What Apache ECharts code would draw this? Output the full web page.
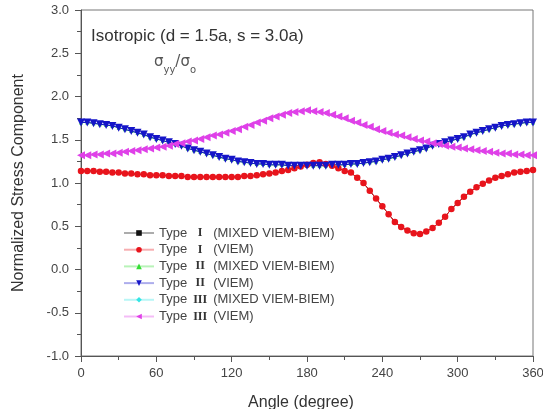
<!DOCTYPE html>
<html>
<head>
<meta charset="utf-8">
<script src="https://cdn.jsdelivr.net/npm/echarts@6/dist/echarts.min.js"></script>
<style>
  html, body { margin: 0; padding: 0; background: #fff; }
  #chart { width: 543px; height: 409px; }
</style>
</head>
<body>
<div id="chart"></div>
<script>
const angles = [
  0, 5, 10, 15, 20, 25, 30, 35, 40, 45,
  50, 55, 60, 65, 70, 75, 80, 85, 90, 95,
  100, 105, 110, 115, 120, 125, 130, 135, 140, 145,
  150, 155, 160, 165, 170, 175, 180, 185, 190, 195,
  200, 205, 210, 215, 220, 225, 230, 235, 240, 245,
  250, 255, 260, 265, 270, 275, 280, 285, 290, 295,
  300, 305, 310, 315, 320, 325, 330, 335, 340, 345,
  350, 355, 360
]

const typeIViem = [
  1.14, 1.14, 1.14, 1.13, 1.13, 1.12, 1.12, 1.11, 1.11, 1.10,
  1.10, 1.09, 1.09, 1.09, 1.08, 1.08, 1.08, 1.07, 1.07, 1.07,
  1.07, 1.07, 1.07, 1.07, 1.07, 1.07, 1.08, 1.08, 1.09, 1.10,
  1.11, 1.12, 1.14, 1.15, 1.17, 1.19, 1.21, 1.23, 1.24, 1.22,
  1.20, 1.17, 1.14, 1.12, 1.06, 1.00, 0.91, 0.82, 0.73, 0.64,
  0.55, 0.49, 0.45, 0.42, 0.41, 0.44, 0.48, 0.54, 0.61, 0.70,
  0.77, 0.84, 0.90, 0.95, 0.99, 1.03, 1.06, 1.08, 1.10, 1.12,
  1.13, 1.14, 1.15
]

const typeIIViem = [
  1.70, 1.70, 1.69, 1.68, 1.67, 1.66, 1.64, 1.62, 1.60, 1.58,
  1.56, 1.53, 1.51, 1.49, 1.47, 1.45, 1.43, 1.40, 1.38, 1.36,
  1.34, 1.32, 1.30, 1.28, 1.27, 1.25, 1.24, 1.23, 1.22, 1.22,
  1.21, 1.21, 1.21, 1.20, 1.20, 1.20, 1.20, 1.20, 1.20, 1.20,
  1.21, 1.21, 1.21, 1.22, 1.22, 1.23, 1.24, 1.25, 1.27, 1.28,
  1.30, 1.32, 1.34, 1.36, 1.38, 1.40, 1.43, 1.45, 1.47, 1.49,
  1.51, 1.53, 1.56, 1.58, 1.60, 1.62, 1.64, 1.66, 1.67, 1.68,
  1.69, 1.70, 1.70
]

const typeIIIViem = [
  1.32, 1.32, 1.33, 1.33, 1.34, 1.34, 1.35, 1.36, 1.37, 1.38,
  1.39, 1.40, 1.41, 1.42, 1.43, 1.45, 1.46, 1.48, 1.49, 1.51,
  1.53, 1.55, 1.56, 1.58, 1.60, 1.62, 1.65, 1.67, 1.70, 1.72,
  1.75, 1.77, 1.79, 1.81, 1.82, 1.83, 1.84, 1.83, 1.82, 1.81,
  1.79, 1.77, 1.75, 1.72, 1.70, 1.67, 1.65, 1.62, 1.60, 1.58,
  1.56, 1.55, 1.53, 1.51, 1.49, 1.48, 1.46, 1.45, 1.43, 1.42,
  1.41, 1.40, 1.39, 1.38, 1.37, 1.36, 1.35, 1.34, 1.34, 1.33,
  1.33, 1.32, 1.32
]

// the mixed VIEM-BIEM results sit right under the VIEM markers
const typeIMixed = typeIViem
const typeIIMixed = typeIIViem
const typeIIIMixed = typeIIIViem

const seriesNames = [
  'Type I (MIXED VIEM-BIEM)',
  'Type I (VIEM)',
  'Type II (MIXED VIEM-BIEM)',
  'Type II (VIEM)',
  'Type III (MIXED VIEM-BIEM)',
  'Type III (VIEM)'
]

const xTicks = [0, 60, 120, 180, 240, 300, 360]
const yTicks = [-1.0, -0.5, 0.0, 0.5, 1.0, 1.5, 2.0, 2.5, 3.0]

function pairs(values) {
  return angles.map((a, i) => [a, values[i]])
}

function makeSeries(name, values, color, symbol, size, rotate, z) {
  return {
    name: name,
    type: 'line',
    data: pairs(values),
    symbol: symbol,
    symbolSize: size,
    symbolRotate: rotate,
    showAllSymbol: true,
    z: z,
    lineStyle: { width: 1, color: color },
    itemStyle: { color: color, borderWidth: 0 },
    emphasis: { disabled: true },
    animation: false
  }
}

const chart = echarts.init(document.getElementById('chart'))

const font = 'Liberation Sans, Arial, sans-serif'
const axisColor = '#555'
const labelColor = '#444'

const option = {
  backgroundColor: '#fff',
  animation: false,
  textStyle: { fontFamily: font },
  grid: {
    left: 81,
    right: 10,
    top: 10,
    bottom: 53,
    containLabel: false,
    outerBoundsMode: 'none',
    show: true,
    borderColor: '#777',
    borderWidth: 1
  },
  legend: {
    orient: 'vertical',
    left: 118,
    top: 221,
    itemWidth: 30,
    itemHeight: 7,
    itemGap: 2.7,
    data: seriesNames,
    lineStyle: { opacity: 0.35 },
    formatter: function (name) {
      const m = name.match(/^Type (I+) (.*)$/)
      return '{t|Type}{r|' + m[1] + '}{t|' + m[2] + '}'
    },
    textStyle: {
      color: labelColor,
      fontSize: 13,
      lineHeight: 14,
      rich: {
        t: { fontSize: 13, color: labelColor, fontFamily: font },
        r: { fontSize: 12, width: 26, align: 'center', color: '#333', fontWeight: 'bold', fontFamily: 'Liberation Serif, serif' }
      }
    }
  },
  graphic: [
    {
      type: 'text',
      left: 91,
      top: 28,
      style: {
        text: 'Isotropic (d = 1.5a, s = 3.0a)',
        fontSize: 17,
        fill: '#333',
        fontFamily: font
      }
    },
    {
      type: 'text',
      left: 154,
      top: 55,
      style: {
        text: '{s|σ}{b|yy}{s|/σ}{b|o}',
        fill: '#555',
        rich: {
          s: { fontSize: 15, fill: '#555', verticalAlign: 'top', fontFamily: 'DejaVu Sans, sans-serif' },
          b: { fontSize: 10, fill: '#555', padding: [10, 0, 0, 0], fontFamily: 'DejaVu Sans, sans-serif' }
        }
      }
    }
  ],
  xAxis: {
    type: 'value',
    min: 0,
    max: 360,
    interval: 60,
    name: 'Angle (degree)',
    nameLocation: 'middle',
    nameGap: 39,
    nameTextStyle: { fontSize: 16, color: '#333', padding: [0, 12, 0, 0] },
    axisLine: { onZero: false, lineStyle: { color: axisColor, width: 1 } },
    axisTick: { show: true, inside: false, length: 6, lineStyle: { color: axisColor } },
    minorTick: { show: true, splitNumber: 2, length: 4, lineStyle: { color: axisColor } },
    axisLabel: {
      color: labelColor,
      fontSize: 13,
      margin: 11,
      formatter: function (v) { return xTicks.indexOf(v) >= 0 ? String(v) : '' }
    },
    splitLine: { show: false }
  },
  yAxis: {
    type: 'value',
    min: -1,
    max: 3,
    interval: 0.5,
    name: 'Normalized Stress Component',
    nameLocation: 'middle',
    nameGap: 54,
    nameTextStyle: { fontSize: 16, color: '#333' },
    axisLine: { show: true, onZero: false, lineStyle: { color: axisColor, width: 1 } },
    axisTick: { show: true, inside: false, length: 6, lineStyle: { color: axisColor } },
    minorTick: { show: true, splitNumber: 2, length: 4, lineStyle: { color: axisColor } },
    axisLabel: {
      color: labelColor,
      fontSize: 13,
      margin: 12,
      formatter: function (v) {
        const t = yTicks.find(y => Math.abs(y - v) < 1e-9)
        return t === undefined ? '' : t.toFixed(1)
      }
    },
    splitLine: { show: false }
  },
  series: [
    makeSeries(seriesNames[0], typeIMixed, '#111111', 'rect', 4, 0, 1),
    makeSeries(seriesNames[1], typeIViem, '#e8141c', 'circle', 6.5, 0, 4),
    makeSeries(seriesNames[2], typeIIMixed, '#33dd33', 'triangle', 4, 0, 1),
    makeSeries(seriesNames[3], typeIIViem, '#1515c8', 'triangle', 8, 180, 4),
    makeSeries(seriesNames[4], typeIIIMixed, '#33e5e5', 'diamond', 4, 0, 1),
    makeSeries(seriesNames[5], typeIIIViem, '#e040e8', 'triangle', 8, 90, 4)
  ]
}

chart.setOption(option)
</script>
</body>
</html>
